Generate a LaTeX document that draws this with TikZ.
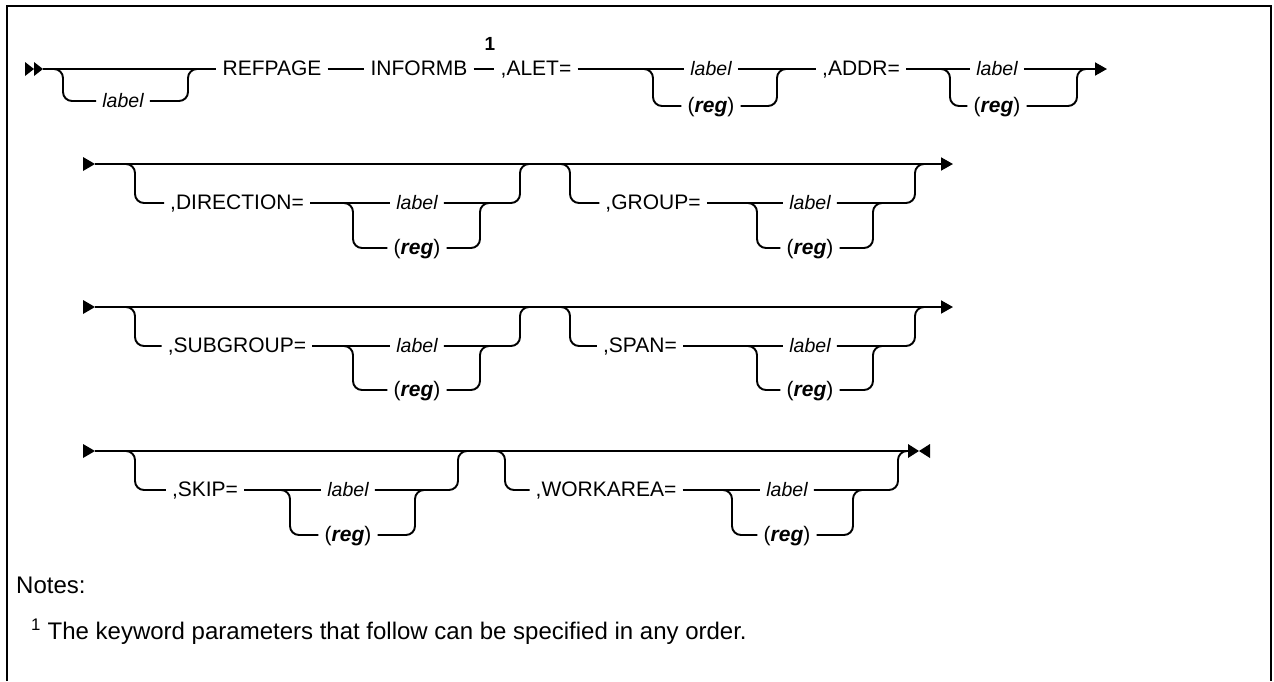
\documentclass[tikz,border=0pt]{standalone}
\usepackage{fontspec}
\setmainfont{Liberation Sans}
\usetikzlibrary{arrows.meta}

\tikzset{
  rail/.style={line width=1.9pt},
  turn/.style={rail, rounded corners=9pt},
  kw/.style={font=\fontsize{21}{25}\selectfont, inner xsep=6pt, inner ysep=0pt,
    text height=15pt, text depth=3pt},
  var/.style={kw, font=\fontsize{19.5}{24}\selectfont\itshape},
  endtip/.style={-{Triangle[length=12pt,width=13pt]}},
  notetext/.style={font=\fontsize{24}{28}\selectfont, anchor=west, inner sep=0pt},
}
\newcommand{\regarg}{(\textbf{\textit{reg}})}

\begin{document}
\begin{tikzpicture}[x=1pt,y=-1pt]
  \useasboundingbox (0,0) rectangle (1274,681);
  % frame
  \draw[line width=2.8pt] (7,681) -- (7,6) -- (1271,6) -- (1271,681);

  % ---- row 1
  \fill (25,62) -- (34,69) -- (25,76) -- cycle;
  \fill (34,62) -- (43,69) -- (34,76) -- cycle;
  \coordinate (s1) at (43,69);
  \coordinate (e1) at (1107,69);
  \node[kw] (refpage) at (272,69) {REFPAGE};
  \node[kw] (informb) at (419,69) {INFORMB};
  \node[kw, font=\fontsize{19}{22}\selectfont\bfseries] (one) at (490,44) {1};
  \node[kw] (alet) at (536,69) {,ALET=};
  \node[var] (alab) at (711,69) {label};
  \node[kw] (areg) at (711,106) {\regarg};
  \node[kw] (addr) at (861,69) {,ADDR=};
  \node[var] (dlab) at (997,69) {label};
  \node[kw] (dreg) at (997,106) {\regarg};
  \node[var] (optlab) at (123,101) {label};

  \draw[rail] (s1) -- (refpage.west);
  \draw[rail] (refpage.east) -- (informb.west);
  \draw[rail] (informb.east) -- (alet.west);
  \draw[rail] (alet.east) -- (alab.west);
  \draw[rail] (alab.east) -- (addr.west);
  \draw[rail] (addr.east) -- (dlab.west);
  \draw[rail, endtip] (dlab.east) -- (e1);

  \coordinate (o1a) at (51,69);  \coordinate (o1b) at (188,69);
  \draw[turn] (o1a) -- ++(12,0) |- (optlab.west);
  \draw[turn] (optlab.east) -| (o1b) -- ++(12,0);
  \coordinate (c1a) at (641,69); \coordinate (c1b) at (777,69);
  \draw[turn] (c1a) -- ++(12,0) |- (areg.west);
  \draw[turn] (areg.east) -| (c1b) -- ++(12,0);
  \coordinate (c2a) at (938,69); \coordinate (c2b) at (1077,69);
  \draw[turn] (c2a) -- ++(12,0) |- (dreg.west);
  \draw[turn] (dreg.east) -| (c2b) -- ++(12,0);

  % ---- row 2
  \fill (83,157) -- (95,164) -- (83,171) -- cycle;
  \coordinate (s2) at (95,164);
  \coordinate (e2) at (953,164);
  \draw[rail, endtip] (s2) -- (e2);
  \node[kw] (direction) at (237,203) {,DIRECTION=};
  \node[var] (dirlab) at (417,203) {label};
  \node[kw] (dirreg) at (417,248) {\regarg};
  \node[kw] (group) at (653,203) {,GROUP=};
  \node[var] (grplab) at (810,203) {label};
  \node[kw] (grpreg) at (810,248) {\regarg};

  \coordinate (o2a) at (123,164); \coordinate (o2b) at (520,164);
  \draw[turn] (o2a) -- ++(12,0) |- (direction.west);
  \draw[rail] (direction.east) -- (dirlab.west);
  \draw[turn] (dirlab.east) -| (o2b) -- ++(12,0);
  \coordinate (c3a) at (341,203); \coordinate (c3b) at (480,203);
  \draw[turn] (c3a) -- ++(12,0) |- (dirreg.west);
  \draw[turn] (dirreg.east) -| (c3b) -- ++(12,0);

  \coordinate (o3a) at (558,164); \coordinate (o3b) at (915,164);
  \draw[turn] (o3a) -- ++(12,0) |- (group.west);
  \draw[rail] (group.east) -- (grplab.west);
  \draw[turn] (grplab.east) -| (o3b) -- ++(12,0);
  \coordinate (c4a) at (745,203); \coordinate (c4b) at (873,203);
  \draw[turn] (c4a) -- ++(12,0) |- (grpreg.west);
  \draw[turn] (grpreg.east) -| (c4b) -- ++(12,0);

  % ---- row 3
  \fill (83,300) -- (95,307) -- (83,314) -- cycle;
  \coordinate (s3) at (95,307);
  \coordinate (e3) at (953,307);
  \draw[rail, endtip] (s3) -- (e3);
  \node[kw] (subgroup) at (237,346) {,SUBGROUP=};
  \node[var] (sublab) at (417,346) {label};
  \node[kw] (subreg) at (417,390) {\regarg};
  \node[kw] (span) at (640,346) {,SPAN=};
  \node[var] (spnlab) at (810,346) {label};
  \node[kw] (spnreg) at (810,390) {\regarg};

  \coordinate (o4a) at (123,307); \coordinate (o4b) at (520,307);
  \draw[turn] (o4a) -- ++(12,0) |- (subgroup.west);
  \draw[rail] (subgroup.east) -- (sublab.west);
  \draw[turn] (sublab.east) -| (o4b) -- ++(12,0);
  \coordinate (c5a) at (341,346); \coordinate (c5b) at (480,346);
  \draw[turn] (c5a) -- ++(12,0) |- (subreg.west);
  \draw[turn] (subreg.east) -| (c5b) -- ++(12,0);

  \coordinate (o5a) at (558,307); \coordinate (o5b) at (915,307);
  \draw[turn] (o5a) -- ++(12,0) |- (span.west);
  \draw[rail] (span.east) -- (spnlab.west);
  \draw[turn] (spnlab.east) -| (o5b) -- ++(12,0);
  \coordinate (c6a) at (745,346); \coordinate (c6b) at (873,346);
  \draw[turn] (c6a) -- ++(12,0) |- (spnreg.west);
  \draw[turn] (spnreg.east) -| (c6b) -- ++(12,0);

  % ---- row 4
  \fill (83,444) -- (95,451) -- (83,458) -- cycle;
  \coordinate (s4) at (95,451);
  \coordinate (e4) at (908,451);
  \draw[rail] (s4) -- (e4);
  \fill (908,444) -- (919,451) -- (908,458) -- cycle;
  \fill (930,444) -- (919,451) -- (930,458) -- cycle;
  \node[kw] (skip) at (205,490) {,SKIP=};
  \node[var] (skplab) at (348,490) {label};
  \node[kw] (skpreg) at (348,535) {\regarg};
  \node[kw] (workarea) at (606,490) {,WORKAREA=};
  \node[var] (wrklab) at (787,490) {label};
  \node[kw] (wrkreg) at (787,535) {\regarg};

  \coordinate (o6a) at (123,451); \coordinate (o6b) at (458,451);
  \draw[turn] (o6a) -- ++(12,0) |- (skip.west);
  \draw[rail] (skip.east) -- (skplab.west);
  \draw[turn] (skplab.east) -| (o6b) -- ++(12,0);
  \coordinate (c7a) at (278,490); \coordinate (c7b) at (415,490);
  \draw[turn] (c7a) -- ++(12,0) |- (skpreg.west);
  \draw[turn] (skpreg.east) -| (c7b) -- ++(12,0);

  \coordinate (o7a) at (493,451); \coordinate (o7b) at (898,451);
  \draw[turn] (o7a) -- ++(12,0) |- (workarea.west);
  \draw[rail] (workarea.east) -- (wrklab.west);
  \draw[turn] (wrklab.east) -| (o7b) -- ++(12,0);
  \coordinate (c8a) at (720,490); \coordinate (c8b) at (853,490);
  \draw[turn] (c8a) -- ++(12,0) |- (wrkreg.west);
  \draw[turn] (wrkreg.east) -| (c8b) -- ++(12,0);

  % notes
  \node[notetext] (notes) at (16,585) {Notes:};
  \node[notetext] (fn) at (31,632) {\textsuperscript{1} The keyword parameters that follow can be specified in any order.};
\end{tikzpicture}
\end{document}
